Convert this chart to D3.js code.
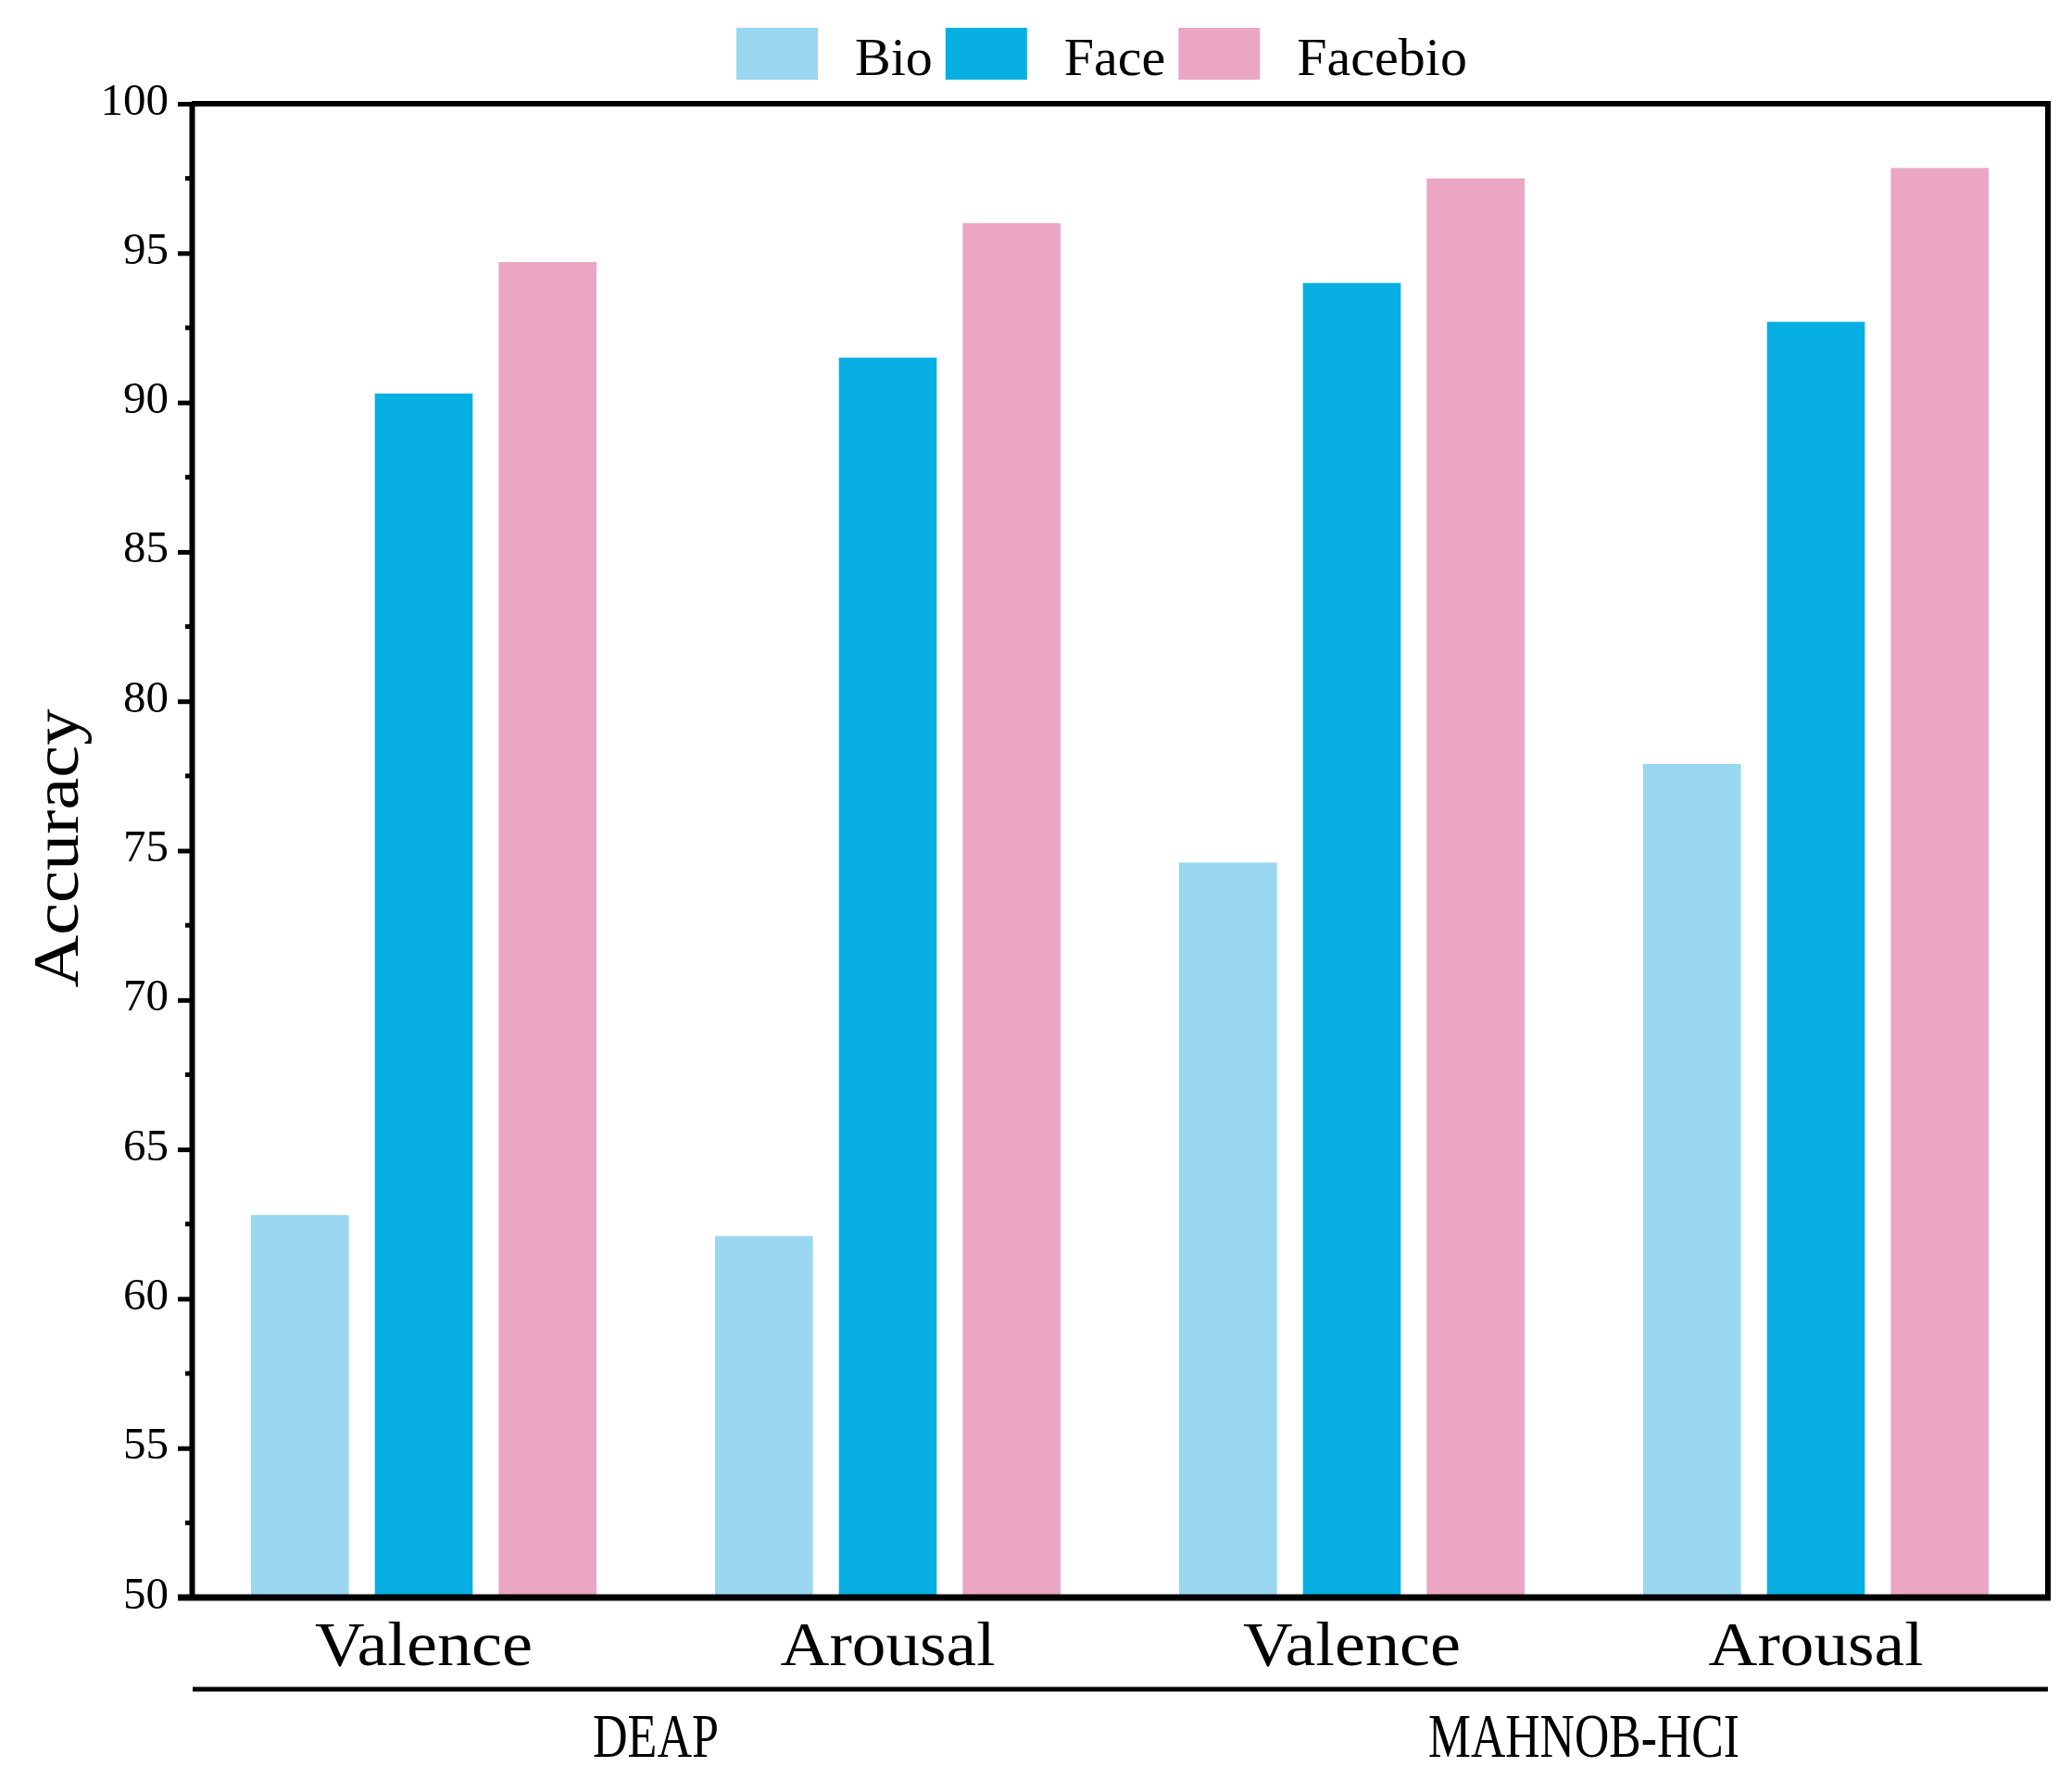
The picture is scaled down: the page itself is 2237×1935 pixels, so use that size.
<!DOCTYPE html>
<html>
<head>
<meta charset="utf-8">
<script src="https://cdn.jsdelivr.net/npm/d3@7/dist/d3.min.js"></script>
<style>
  html, body { margin: 0; padding: 0; background: #ffffff; }
  svg { display: block; }
  text { font-family: "Liberation Serif", "DejaVu Serif", serif; fill: #000; }
</style>
</head>
<body>
<svg id="chart" width="2237" height="1935"></svg>
<script>
// ---- data ----
const categories = ["Valence", "Arousal", "Valence", "Arousal"];
const datasets = ["DEAP", "MAHNOB-HCI"];
const series = ["Bio", "Face", "Facebio"];
const bioValues = [62.8, 62.1, 74.6, 77.9];
const faceValues = [90.3, 91.5, 94.0, 92.7];
const facebioValues = [94.7, 96.0, 97.5, 97.85];
const yTicks = [50, 55, 60, 65, 70, 75, 80, 85, 90, 95, 100];
const colors = ["#9AD7F1", "#07AFE3", "#EAA6C2"];

const seriesValues = [bioValues, faceValues, facebioValues];

(function () {
const svg = d3.select("#chart");
const mLeft = 207, mRight = 2211, mTop = 112, mBottom = 1725;

const y = d3.scaleLinear().domain([50, 100]).range([mBottom, mTop]);
const idx = d3.range(categories.length);
const x0 = d3.scaleBand().domain(idx).range([mLeft, mRight]).padding(0);
const x1 = d3.scaleBand().domain(series).range([64, x0.bandwidth() - 64]).paddingInner(0.21).paddingOuter(0);

// bars
const groups = svg.append("g").selectAll("g").data(idx).join("g")
  .attr("transform", i => `translate(${x0(i)},0)`);
groups.selectAll("rect")
  .data(i => series.map((s, k) => ({ s, k, v: seriesValues[k][i] })))
  .join("rect")
  .attr("x", d => x1(d.s))
  .attr("width", x1.bandwidth())
  .attr("y", d => y(d.v))
  .attr("height", d => y(50) - y(d.v))
  .attr("fill", d => colors[d.k]);

// frame (top & right)
svg.append("line").attr("x1", mLeft).attr("x2", mRight).attr("y1", mTop).attr("y2", mTop)
  .attr("stroke", "#000").attr("stroke-width", 6);
svg.append("line").attr("x1", mRight).attr("x2", mRight).attr("y1", mTop - 3).attr("y2", mBottom + 3)
  .attr("stroke", "#000").attr("stroke-width", 6);

// y axis
const yAxis = d3.axisLeft(y).tickValues(yTicks).tickSize(15).tickSizeOuter(0).tickPadding(10);
const gy = svg.append("g").attr("transform", `translate(${mLeft},0)`).call(yAxis);
gy.select(".domain").attr("stroke", "#000").attr("stroke-width", 6);
gy.selectAll(".tick line").attr("stroke", "#000").attr("stroke-width", 5);
gy.selectAll(".tick text")
  .attr("font-family", "Liberation Serif, serif")
  .attr("font-size", 49)
  .attr("x", -25)
  .attr("dy", null)
  .attr("y", 11)
  .attr("fill", "#000");
// minor ticks
const minor = d3.range(52.5, 100, 5);
svg.append("g").selectAll("line").data(minor).join("line")
  .attr("x1", mLeft - 7).attr("x2", mLeft)
  .attr("y1", d => y(d)).attr("y2", d => y(d))
  .attr("stroke", "#000").attr("stroke-width", 5);

// x axis (bottom line)
svg.append("line").attr("x1", mLeft - 15).attr("x2", mRight + 3).attr("y1", mBottom).attr("y2", mBottom)
  .attr("stroke", "#000").attr("stroke-width", 7);

// category labels
svg.append("g").selectAll("text").data(idx).join("text")
  .attr("x", i => x0(i) + x0.bandwidth() / 2)
  .attr("y", 1798)
  .attr("text-anchor", "middle")
  .attr("font-size", 68)
  .attr("textLength", i => categories[i] === "Valence" ? 235 : 232)
  .attr("lengthAdjust", "spacingAndGlyphs")
  .text(i => categories[i]);

// separator line
svg.append("line").attr("x1", 208).attr("x2", mRight).attr("y1", 1824).attr("y2", 1824)
  .attr("stroke", "#000").attr("stroke-width", 5);

// dataset labels
svg.append("g").selectAll("text").data(datasets).join("text")
  .attr("x", (d, j) => (x0(j * 2) + x0(j * 2 + 1) + x0.bandwidth()) / 2)
  .attr("y", 1897)
  .attr("text-anchor", "middle")
  .attr("font-size", 68)
  .attr("textLength", (d, j) => j === 0 ? 136 : 336)
  .attr("lengthAdjust", "spacingAndGlyphs")
  .text(d => d);

// y label
svg.append("text")
  .attr("transform", "translate(84,916) rotate(-90)")
  .attr("text-anchor", "middle")
  .attr("font-size", 70)
  .attr("textLength", 301)
  .attr("lengthAdjust", "spacingAndGlyphs")
  .text("Accuracy");

// legend
const legend = svg.append("g");
let lx = 795;
series.forEach((s, k) => {
  legend.append("rect").attr("x", lx).attr("y", 30).attr("width", 88).attr("height", 56)
    .attr("fill", colors[k]);
  const t = legend.append("text").attr("x", lx + 128).attr("y", 81)
    .attr("font-size", 58).text(s);
  const w = t.node().getComputedTextLength();
  lx = lx + 128 + w + 14;
});
})();
</script>
</body>
</html>
